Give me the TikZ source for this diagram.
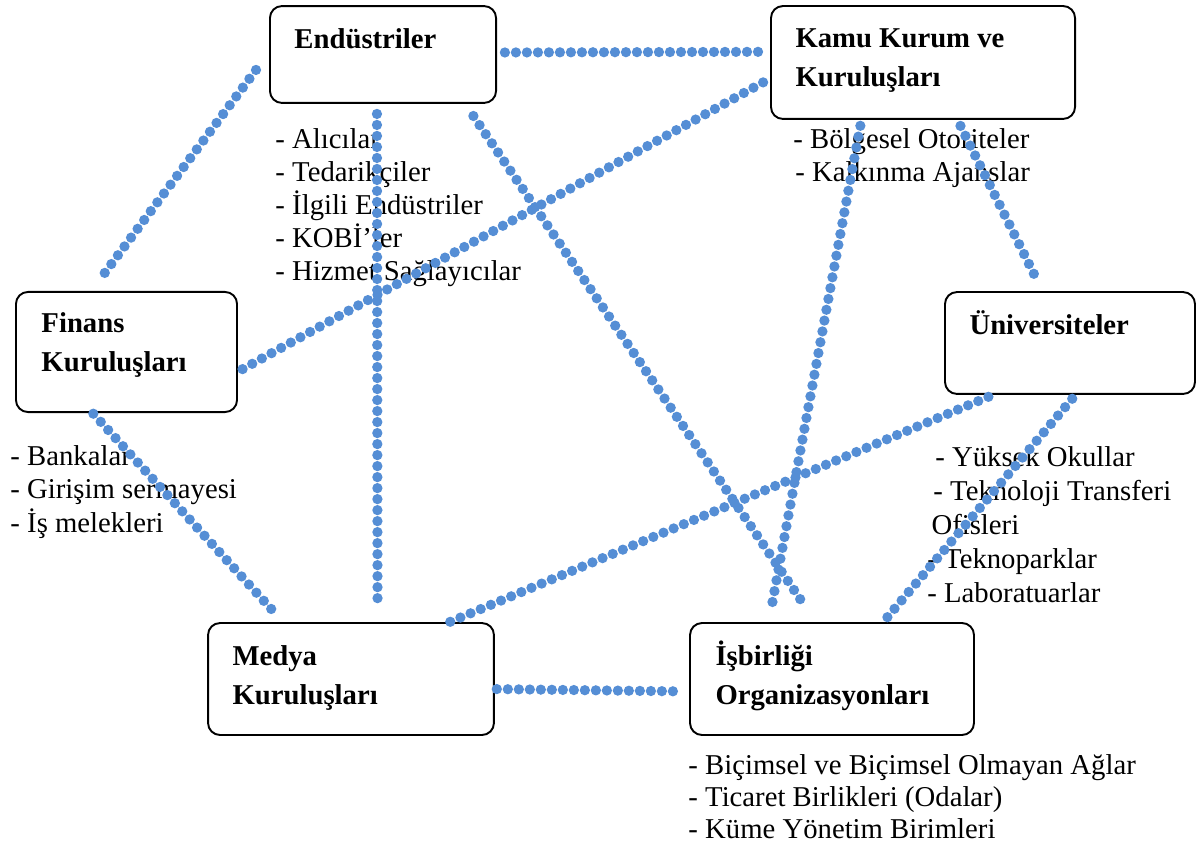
\documentclass[tikz,border=0pt,12pt]{standalone}
\usepackage{fontspec}
\setmainfont{Liberation Serif}
\usetikzlibrary{positioning,calc}
\definecolor{linkblue}{RGB}{85,142,213}

\begin{document}
\begin{tikzpicture}[
  x=0.418pt, y=-0.418pt,
  font=\fontsize{12}{13.8}\selectfont,
  box/.style={rectangle, draw=black, line width=0.8pt, rounded corners=5pt, inner sep=0pt, fill=white},
  title/.style={anchor=base west, inner sep=0pt, align=left, font=\fontsize{12}{16.3}\selectfont\bfseries},
  items/.style={anchor=base west, inner sep=0pt, align=left},
  link/.style={draw=linkblue, line width=4.3pt, line cap=round, dash pattern=on 0pt off 4.6pt}
]
\useasboundingbox (0,0) rectangle (1198,858);

% boxes
\node[box, minimum width=94.5pt, minimum height=40.5pt] (end) at (383,54.5) {};
\node[box, minimum width=127.1pt, minimum height=47.2pt] (kamu) at (923,62.5) {};
\node[box, minimum width=92.4pt, minimum height=50.2pt] (fin) at (126.5,352) {};
\node[box, minimum width=104.5pt, minimum height=42.6pt] (uni) at (1070,343) {};
\node[box, minimum width=119.5pt, minimum height=46.8pt] (med) at (351,679) {};
\node[box, minimum width=118.7pt, minimum height=46.8pt] (isb) at (832,679) {};

% titles (base = last line)
\node[title] (end-t) at ([shift={(25,43)}]end.north west) {Endüstriler};
\node[title] (kamu-t) at ([shift={(25,81)}]kamu.north west) {Kamu Kurum ve\\Kuruluşları};
\node[title] (fin-t) at ([shift={(26,81)}]fin.north west) {Finans\\Kuruluşları};
\node[title] (uni-t) at ([shift={(25,43)}]uni.north west) {Üniversiteler};
\node[title] (med-t) at ([shift={(25,82)}]med.north west) {Medya\\Kuruluşları};
\node[title] (isb-t) at ([shift={(26,82)}]isb.north west) {İşbirliği\\Organizasyonları};

% members
\node[items] (end-l) at (275,281) {- Alıcılar\\- Tedarikçiler\\- İlgili Endüstriler\\- KOBİ’ler\\- Hizmet Sağlayıcılar};
\node[items] (kamu-l) at (793,182) {- Bölgesel Otoriteler\\\hspace*{0.8pt}- Kalkınma Ajanslar};
\node[items] (fin-l) at (10,532) {- Bankalar\\- Girişim sermayesi\\- İş melekleri};
\node[items, font=\fontsize{12}{14.2}\selectfont] (uni-l) at (927,602) {\hspace*{3.3pt}- Yüksek Okullar\\\hspace*{2.5pt}- Teknoloji Transferi\\\hspace*{1.7pt}Ofisleri\\- Teknoparklar\\- Laboratuarlar};
\node[items, font=\fontsize{12}{13.2}\selectfont] (isb-l) at (688,838) {- Biçimsel ve Biçimsel Olmayan Ağlar\\- Ticaret Birlikleri (Odalar)\\- Küme Yönetim Birimleri};

% links
\draw[link, shorten <=3.3pt, shorten >=1pt] (end.1.3) -- (kamu.176);
\draw[link, shorten <=9.1pt, shorten >=5.2pt] (end.179) -- (fin.120.3);
\draw[link, shorten <=4.2pt, shorten >=6.7pt] (end.-97) -- (med.65.1);
\draw[link, shorten <=6.1pt, shorten >=8.6pt] (end.-31.6) -- (isb.106.3);
\draw[link, shorten <=3.3pt, shorten >=1.3pt] (kamu.-174.1) -- (fin.-10.6);
\draw[link, shorten <=2.5pt, shorten >=5.9pt] (kamu.-137.6) -- (isb.138.1);
\draw[link, shorten <=2.8pt, shorten >=4.2pt] (kamu.-59.7) -- (uni.118.3);
\draw[link, shorten <=0.4pt, shorten >=4.5pt] (fin.-119.2) -- (med.140);
\draw[link, shorten <=2.1pt] (uni.-146.6) -- (med.30.8);
\draw[link, shorten <=2.1pt] (uni.-84) -- (isb.48.2);
\draw[link, shorten <=0.8pt, shorten >=3.3pt] (med.-4.4) -- (isb.-175.6);

\end{tikzpicture}
\end{document}
